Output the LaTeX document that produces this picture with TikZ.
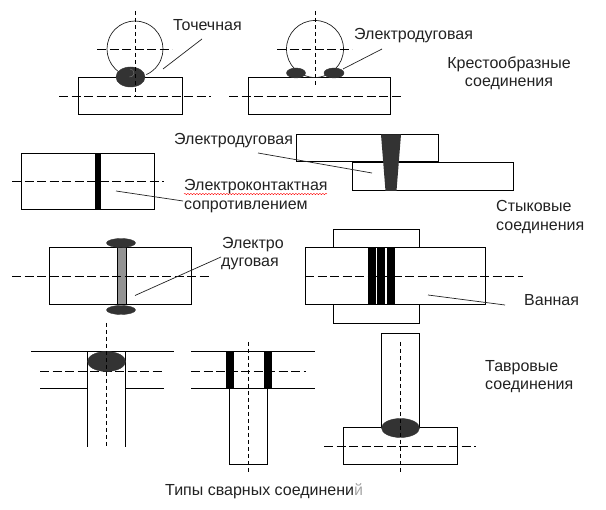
\documentclass[tikz,border=0pt]{standalone}
\usepackage{fontspec}
\setmainfont{Liberation Sans}
\usetikzlibrary{shapes.geometric, decorations.pathmorphing}
\definecolor{welddark}{HTML}{333333}
\definecolor{inkdark}{HTML}{222222}
\tikzset{
    plate/.style={draw, line width=1pt},
    axisH/.style={draw, line width=.8pt, dash pattern=on 9pt off 3.5pt},
    axisV/.style={draw, line width=.8pt, dash pattern=on 4pt off 3pt},
    leader/.style={draw, line width=.7pt, inkdark},
    weld/.style={ellipse, fill=welddark, draw=welddark, inner sep=0pt},
    bar/.style={fill=black, draw=none},
    lbl/.style={anchor=base west, inner sep=0pt, text=inkdark, font=\fontsize{16}{19}\selectfont},
}
\begin{document}
\begin{tikzpicture}[x=1pt, y=-1pt]
        \useasboundingbox[fill=white] (0,0) rectangle (606,510);

        \draw[plate] (78.5,77.5) rectangle (182.5,115);
        \draw[line width=.7pt, inkdark] (135,49) ++(124:28) arc[start angle=124, end angle=426, radius=28];
        \node[weld, minimum width=29pt, minimum height=20pt] (spotweld) at (130.5,77) {};
        \draw[line width=.4pt, gray] (130,69) arc[start angle=-90, end angle=100, radius=4];
        \path[axisV] (135.5,11) -- (135.5,96);
        \path[axisH] (97,49) -- (172,49);
        \path[axisH] (59,96) -- (211,96);
        \node[lbl] (spotlabel) at (173,31) {Точечная};
        \coordinate (spotA) at (202,39);
        \coordinate (spotB) at (163,69);
        \path[leader] (spotA) -- (spotB);

        \draw[plate] (248,77.5) rectangle (390.5,115);
        \draw[line width=.7pt, inkdark] (315,49) circle[radius=28.5];
        \node[weld, minimum width=19pt, minimum height=10pt] (arcweldL) at (296,73) {};
        \node[weld, minimum width=20pt, minimum height=10pt] (arcweldR) at (334,73) {};
        \path[axisV] (315.5,11) -- (315.5,86);
        \path[axisH] (277,49) -- (352,49);
        \path[axisH] (229,96) -- (401,96);
        \node[lbl] (arclabel) at (354,40) {Электродуговая};
        \coordinate (arcA) at (382,49);
        \coordinate (arcB) at (343,69);
        \path[leader] (arcA) -- (arcB);

        \node[lbl, anchor=base] (crossA) at (509,69) {Крестообразные};
        \node[lbl, anchor=base] (crossB) at (509,87) {соединения};

        \draw[plate] (21.5,153.5) rectangle (154.5,210);
        \path[bar] (95,153.5) rectangle (100.5,210);
        \path[axisH] (12,181) -- (164,181);
        \node[lbl] (contactA) at (184,191) {Электроконтактная};
        \node[lbl] (contactB) at (184,210) {сопротивлением};
        \draw[red, line width=.4pt, decorate, decoration={snake, amplitude=.7pt, segment length=3pt}] (184,194) -- (327,194);
        \coordinate (contactC) at (116,191);
        \coordinate (contactD) at (183,201);
        \path[leader] (contactC) -- (contactD);

        \draw[plate] (296.5,134.5) rectangle (438.5,162);
        \draw[plate] (352.5,162.5) rectangle (513.5,191);
        \path[fill=welddark] (381,134.5) -- (401,134.5) -- (396.5,191) -- (385.5,191) -- cycle;
        \node[lbl] (buttarc) at (174,145) {Электродуговая};
        \coordinate (buttA) at (258,153);
        \coordinate (buttB) at (372,173);
        \path[leader] (buttA) -- (buttB);
        \node[lbl] (buttlabelA) at (496,212) {Стыковые};
        \node[lbl] (buttlabelB) at (496,231) {соединения};

        \draw[plate] (49.5,247.5) rectangle (191.5,304.5);
        \draw[plate, fill=gray!85] (117,247.5) rectangle (126,304.5);
        \node[weld, minimum width=29pt, minimum height=9pt] (capT) at (121,243) {};
        \node[weld, minimum width=29pt, minimum height=9pt] (capB) at (121,310) {};
        \path[axisH] (12,276.5) -- (211,276.5);
        \node[lbl] (rodA) at (222,249) {Электро};
        \node[lbl] (rodB) at (221,267) {дуговая};
        \coordinate (rodC) at (135,295.5);
        \coordinate (rodD) at (221,257);
        \path[leader] (rodC) -- (rodD);

        \draw[plate] (333.5,229.5) rectangle (419.5,247.5);
        \draw[plate] (333.5,304.5) rectangle (419.5,323.5);
        \draw[plate] (305.5,247.5) rectangle (485.5,304.5);
        \foreach \xa/\xb in {368/375.5, 377/385, 387/394.5}
            \path[bar] (\xa,247.5) rectangle (\xb,304.5);
        \path[axisH] (305,276.5) -- (523,276.5);
        \node[lbl] (bathlabel) at (524,306) {Ванная};
        \coordinate (bathA) at (428,295);
        \coordinate (bathB) at (505,305);
        \path[leader] (bathA) -- (bathB);

        \draw[plate] (31,352) -- (174,352);
        \draw[plate] (40,389) -- (87.5,389) (125.5,389) -- (164,389);
        \draw[plate] (87.5,352) -- (87.5,447) (125.5,352) -- (125.5,447);
        \path[axisH] (40,371) -- (164,371);
        \node[weld, minimum width=38pt, minimum height=20pt] (teeweldA) at (106.5,361.5) {};
        \path[axisV] (106.5,323) -- (106.5,447);

        \draw[plate] (191,352) -- (315,352) (191,389) -- (315,389);
        \draw[plate] (229.5,389) rectangle (267.5,465);
        \path[axisH] (191,371) -- (306,371);
        \path[bar] (226,352) rectangle (233.5,389.5);
        \path[bar] (264,352) rectangle (271.5,389.5);
        \path[axisV] (248.5,342) -- (248.5,473);

        \draw[plate] (381.5,333.5) rectangle (419.5,427.5);
        \draw[plate] (343.5,427.5) rectangle (457.5,465);
        \node[weld, minimum width=38pt, minimum height=19pt] (teeweldB) at (400.5,428) {};
        \path[axisV] (400.5,342) -- (400.5,473);
        \path[axisH] (324,446) -- (476,446);
        \node[lbl] (teeA) at (485,372) {Тавровые};
        \node[lbl] (teeB) at (485,390) {соединения};

        \node[lbl] (caption) at (165,496) {Типы сварных соединени{\color{gray!70}й}};
    \end{tikzpicture}
\end{document}
